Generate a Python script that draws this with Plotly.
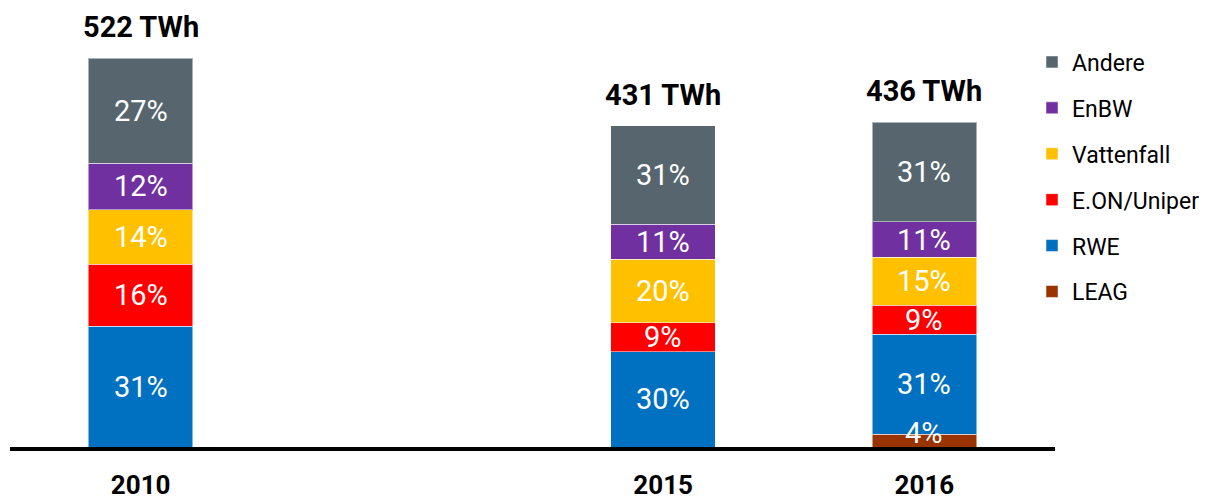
import plotly.graph_objects as go

years = ["2010", "2015", "2016"]
totals_twh = [522, 431, 436]
companies = ["LEAG", "RWE", "E.ON/Uniper", "Vattenfall", "EnBW", "Andere"]
shares = {
    "LEAG": [0, 0, 4],
    "RWE": [31, 30, 31],
    "E.ON/Uniper": [16, 9, 9],
    "Vattenfall": [14, 20, 15],
    "EnBW": [12, 11, 11],
    "Andere": [27, 31, 31],
}
colors = {
    "LEAG": "#993300",
    "RWE": "#0070C0",
    "E.ON/Uniper": "#FF0000",
    "Vattenfall": "#FFC000",
    "EnBW": "#7030A0",
    "Andere": "#56656E",
}

# slot index of each year on the axis (2011-2014 gap collapsed into one empty slot)
slot = {"2010": 0, "2015": 2, "2016": 3}
xs = [slot[y] for y in years]

# rounded shares may not sum to exactly 100 -> scale so stacks reach the total
share_sums = [sum(shares[c][i] for c in companies) for i in range(len(years))]

fig = go.Figure()
annotations = []
cum = [0.0] * len(years)
n = len(companies)
for k, c in enumerate(companies):
    vals = [s * t / ss for s, t, ss in zip(shares[c], totals_twh, share_sums)]
    fig.add_trace(go.Bar(
        x=xs, y=vals, name=c, width=0.4,
        marker=dict(color=colors[c], line=dict(color="rgba(255,255,255,0.5)", width=1)),
        legendgroup=c, legendrank=n - k, hoverinfo="name+y",
    ))
    for i, (v, s) in enumerate(zip(vals, shares[c])):
        if s > 0:
            small = s < 6
            annotations.append(dict(
                x=xs[i], y=cum[i] + v / 2, text=f"{s}%", showarrow=False,
                font=dict(family="Roboto", size=29, color="white"),
                yshift=8 if small else 0,
            ))
        cum[i] += v

for i, t in enumerate(totals_twh):
    annotations.append(dict(
        x=xs[i], y=cum[i], text=f"<b>{t} TWh</b>", showarrow=False,
        yanchor="bottom", yshift=12,
        font=dict(family="Roboto", size=29, color="black"),
    ))

fig.update_layout(
    barmode="stack",
    width=1201, height=491,
    margin=dict(l=2, r=154, t=12, b=52, autoexpand=False),
    plot_bgcolor="white", paper_bgcolor="white",
    showlegend=True,
    legend=dict(
        traceorder="grouped", x=0.978, xanchor="left", y=0.952, yanchor="top",
        font=dict(family="Roboto", size=23, color="black"),
        tracegroupgap=13, itemwidth=30,
    ),
    annotations=annotations,
    xaxis=dict(
        range=[-0.5, 3.5], tickvals=xs, ticktext=[f"<b>{y}</b>" for y in years],
        tickfont=dict(family="Roboto", size=26, color="black"),
        showline=True, linecolor="black", linewidth=4, showgrid=False,
        zeroline=False, ticks="", ticklabelstandoff=12, automargin=False,
    ),
    yaxis=dict(range=[0, 573], visible=False, showgrid=False, zeroline=False,
               automargin=False),
)

fig.write_html("out.html")
